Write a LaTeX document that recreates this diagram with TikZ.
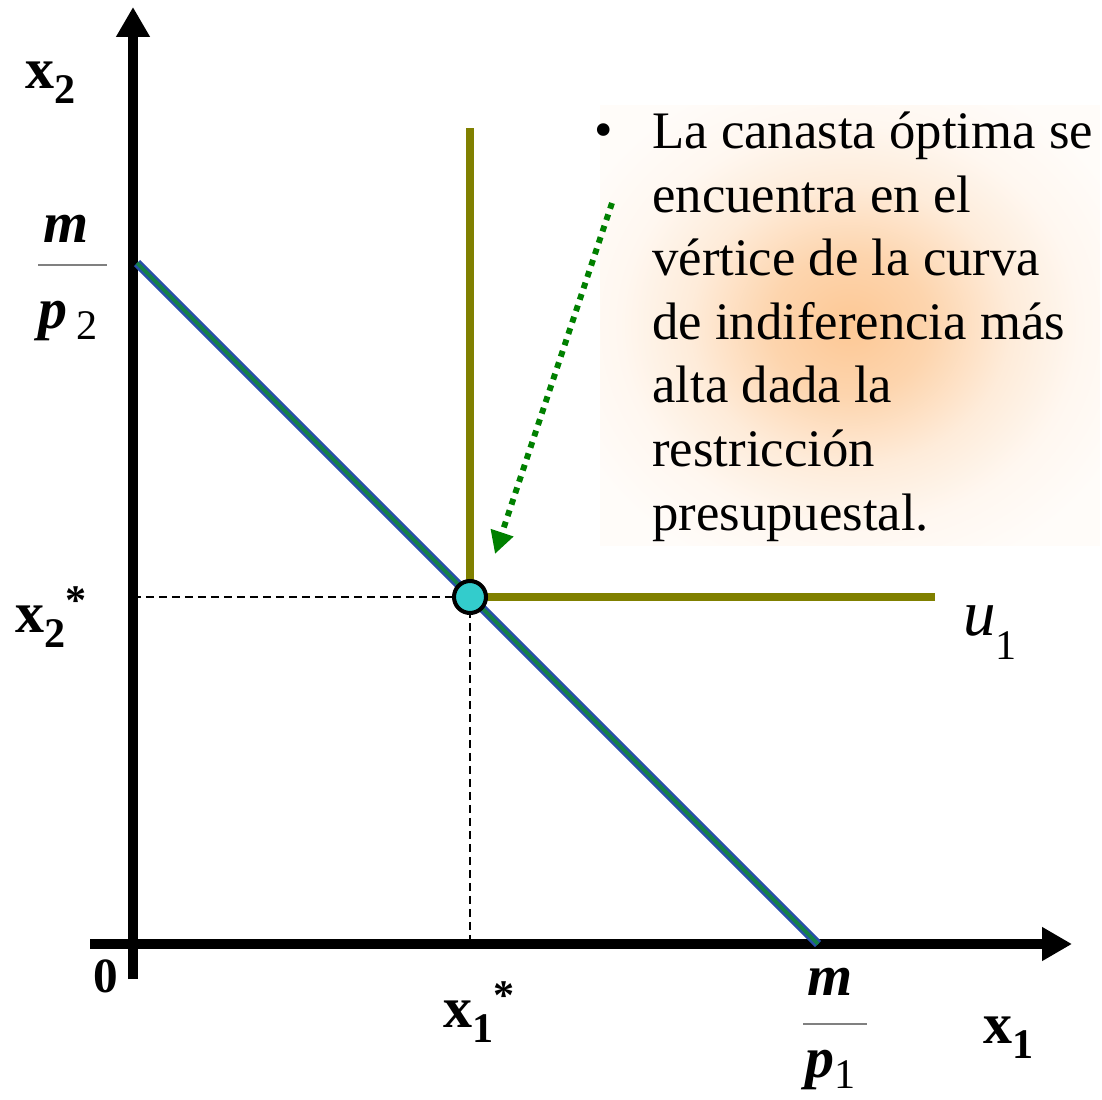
\documentclass[tikz,border=0pt]{standalone}
\usepackage{fontspec}
\setmainfont{Liberation Serif}
\usepackage{xcolor}
\usetikzlibrary{arrows.meta,positioning}

\definecolor{olivec}{RGB}{128,128,0}
\definecolor{dotcyan}{RGB}{51,204,204}
\definecolor{hintgreen}{RGB}{0,128,0}
\definecolor{budgetblue}{RGB}{40,80,170}
\definecolor{budgetgreen}{RGB}{20,130,70}
\definecolor{glowc}{RGB}{252,190,130}
\pgfdeclareradialshading{glow}{\pgfpoint{0bp}{0bp}}{%
  color(0bp)=(glowc!85!white); color(8bp)=(glowc!65!white);
  color(16bp)=(glowc!30!white); color(23bp)=(glowc!12!white);
  color(30bp)=(glowc!5!white); color(50bp)=(glowc!5!white)}

% lowered and raised indices in the text font
\newcommand{\lowidx}[2][-0.27em]{\raisebox{#1}{\fontsize{24}{28}\selectfont #2}}
\newcommand{\staridx}{\raisebox{0.3em}{\fontsize{24}{28}\selectfont\bfseries *}}

\begin{document}
\begin{tikzpicture}[
    x=0.02cm, y=-0.02cm,
    axis/.style={line width=5.7pt, -{Triangle[length=0.6cm,width=0.64cm]}},
    indiff/.style={draw=olivec, line width=4pt},
    guide/.style={dash pattern=on 0.16cm off 0.1cm, line width=0.75pt},
    hint/.style={draw=hintgreen, line width=3.4pt, dash pattern=on 0.12cm off 0.12cm,
        -{Triangle[length=0.45cm,width=0.45cm,fill=hintgreen]}},
    optpt/.style={circle, draw, fill=dotcyan, line width=2.3pt, minimum size=0.64cm, inner sep=0pt},
    lbl/.style={inner sep=0pt, font=\fontsize{33}{40}\selectfont\bfseries},
    frac/.style={inner sep=0pt, font=\fontsize{33}{40}\selectfont},
    note/.style={inner sep=0pt, align=left, font=\fontsize{30}{36.2}\selectfont}
]
\useasboundingbox (0,0) rectangle (1102,1099);

% soft background of the note
\fill[shading=glow] (600,105) rectangle (1100,545);

% note (base = last line)
\node[note, anchor=base west] (note) at (652,530)
    {La canasta óptima se\\encuentra en el\\vértice de la curva\\de indiferencia más\\alta dada la\\restricción\\presupuestal.};
\node[note, anchor=base] (bullet) at (604,147) {\textbullet};

% axes
\coordinate (origin) at (133,944);
\coordinate (ybot) at (133,979);
\coordinate (ytop) at (133,7);
\coordinate (xleft) at (90,944);
\coordinate (xright) at (1072,944);
\draw[axis] (ybot) -- (ytop);
\draw[axis] (xleft) -- (xright);

% budget line
\coordinate (bla) at (137,263);
\coordinate (blb) at (818,944);
\draw[budgetblue, line width=5pt] (bla) -- (blb);
\draw[budgetgreen, line width=2.2pt] (bla) -- (blb);

% optimum and indifference curve
\coordinate (opt) at (470,597);
\coordinate (utop) at (470,128);
\coordinate (uright) at (935,597);
\draw[guide] (opt -| origin) -- (opt);
\draw[guide] (opt) -- (opt |- origin);
\draw[indiff] (utop) -- (opt) -- (uright);
\node[optpt] (optdot) at (opt) {};

% pointer
\coordinate (hintstart) at (612,203);
\coordinate (hintend) at (495,554);
\draw[hint] (hintstart) -- (hintend);

% labels
\node[lbl, anchor=base west] (x2lab) at (25,88) {x\lowidx{\bfseries 2}};
\node[lbl, anchor=base west] (x2star) at (15,632) {x\lowidx{\bfseries 2}\staridx};
\node[lbl, anchor=base west] (x1star) at (443,1027) {x\lowidx{\bfseries 1}\staridx};
\node[lbl, anchor=base west] (x1lab) at (983,1043) {x\lowidx{\bfseries 1}};
\node[inner sep=0pt, font=\fontsize{28}{34}\selectfont, anchor=base west] (zero) at (93,992) {\textbf{0}};
\node[inner sep=0pt, font=\fontsize{37}{44}\selectfont, anchor=base west] (ulab) at (963,635) {\textit{u}\lowidx[-0.38em]{1}};

% intercepts
\node[frac, anchor=base] (m2) at (66,242) {\textbf{\textit{m}}};
\node[frac, anchor=base] (p2) at (68,328) {\textbf{\textit{p}}\,\lowidx[-0.2em]{2}};
\draw[gray, line width=0.6pt] (38,265) -- (107,265);
\node[frac, anchor=base] (m1) at (830,995) {\textbf{\textit{m}}};
\node[frac, anchor=base] (p1) at (831,1077) {\textbf{\textit{p}}\lowidx[-0.2em]{1}};
\draw[gray, line width=0.6pt] (803,1024) -- (867,1024);
\end{tikzpicture}
\end{document}
